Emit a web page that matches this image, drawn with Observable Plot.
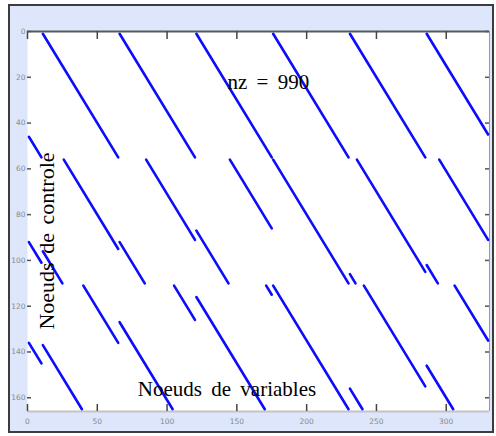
<!DOCTYPE html>
<html><head><meta charset="utf-8">
<script src="https://cdn.jsdelivr.net/npm/d3@7"></script>
<script src="https://cdn.jsdelivr.net/npm/@observablehq/plot@0.6"></script>
<style>
html,body{margin:0;padding:0;background:#fff;}
#wrap{position:relative;width:496px;height:436px;overflow:hidden;}
#box{position:absolute;left:8px;top:4px;width:482px;height:425px;border:2px solid #3c3c3c;background:#dde6fb;}
#chart{position:absolute;left:0;top:0;}
</style></head><body>
<div id="wrap"><div id="box"></div><div id="chart"></div></div>
<script>
// Sparse parity-check matrix (165 x 330), nz = 990, drawn as diagonal runs of nonzeros
const nRows = 165, nCols = 330;
const colStart = [11,66,121,176,231,286,1, 26,11,85,66,145,121,176,236,231,295,1,286, 40,11,105,66,171,121,176,241,231,306,1,286];
const rowStart = [1,1,1,1,1,1,46, 56,96,56,92,56,87,56,56,106,56,92,102, 111,137,111,127,111,116,111,111,156,111,136,146];
const colEnd   = [65,120,175,230,285,330,10, 65,25,120,84,175,144,230,285,235,330,10,294, 65,39,120,104,175,170,230,285,240,330,10,305];
const rowEnd   = [55,55,55,55,55,45,55, 95,110,91,110,86,110,110,105,110,91,101,110, 136,165,126,165,115,165,165,155,165,135,145,165];
const xTicks = [0,50,100,150,200,250,300];
const yTicks = [0,20,40,60,80,100,120,140,160];
const nzLabel = "nz = 990";
const xLabel = "Noeuds de variables";
const yLabel = "Noeuds de controle";

const segs = colStart.map((c,i)=>({c1:c, r1:rowStart[i], c2:colEnd[i], r2:rowEnd[i]}));
const W=496,H=436, mL=27,mT=31,mR=7,mB=25;
const fh = H-mT-mB, fw = W-mL-mR;
const serif = "'Liberation Serif','Times New Roman',serif";
const chart = Plot.plot({
  width:W, height:H, marginLeft:mL, marginTop:mT, marginRight:mR, marginBottom:mB,
  style:{background:"transparent", fontFamily:"'DejaVu Sans', sans-serif", overflow:"visible"},
  x:{domain:[0,nCols+1]},
  y:{domain:[0,nRows+1], reverse:true},
  marks:[
    Plot.frame({fill:"white", stroke:null}),
    Plot.ruleX([nCols+1], {stroke:"#9a9a9a", strokeWidth:1}),
    Plot.ruleY([nRows+1], {stroke:"#c4c4c4", strokeWidth:2}),
    Plot.ruleY([0], {stroke:"#5a5a5a", strokeWidth:2}),
    Plot.tickX(xTicks, {x:d=>d, insetBottom: fh-8, stroke:"#444", strokeWidth:1.5}),
    Plot.tickX(xTicks, {x:d=>d, insetTop: fh-7, stroke:"#444", strokeWidth:1.5}),
    Plot.tickY(yTicks, {y:d=>d, insetRight: fw-4, stroke:"#555", strokeWidth:1.5}),
    Plot.tickY(yTicks, {y:d=>d, insetLeft: fw-4, stroke:"#555", strokeWidth:1.5}),
    Plot.link(segs, {x1:"c1", y1:"r1", x2:"c2", y2:"r2", stroke:"#0c0cff", strokeWidth:2.6, strokeLinecap:"round"}),
    Plot.axisX(xTicks, {anchor:"bottom", tickSize:0, tickPadding:7, fontSize:7.5, fill:"#8a8a8a", label:null}),
    Plot.axisY(yTicks, {anchor:"left", tickSize:0, tickPadding:2, fontSize:7.5, fill:"#8a8a8a", label:null}),
    Plot.text([nzLabel], {text:d=>d, frameAnchor:"top-left", dx:200, dy:57, textAnchor:"start", lineAnchor:"bottom", fontSize:21, fontFamily:serif, fill:"black"}),
    Plot.text([xLabel], {text:d=>d, frameAnchor:"bottom-left", dx:199.5, dy:-16, textAnchor:"middle", lineAnchor:"bottom", fontSize:21, fontFamily:serif, fill:"black"}),
    Plot.text([yLabel], {text:d=>d, frameAnchor:"left", dx:26, dy:19.5, rotate:-90, textAnchor:"middle", lineAnchor:"bottom", fontSize:22, fontFamily:serif, fill:"black"})
  ]
});
document.getElementById("chart").appendChild(chart);
d3.select(chart).selectAll("text").each(function(){
  const t = this.textContent;
  if (t === nzLabel) this.style.wordSpacing = "4px";
  if (t === xLabel) this.style.wordSpacing = "4px";
  if (t === yLabel) this.style.wordSpacing = "3px";
});
</script>
</body></html>
